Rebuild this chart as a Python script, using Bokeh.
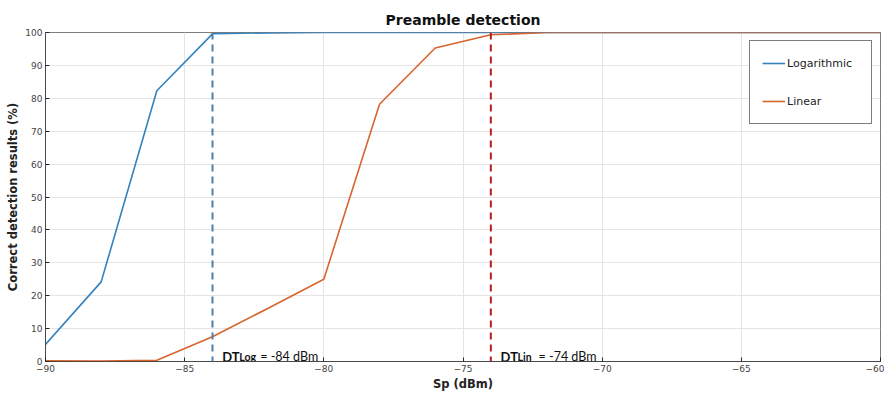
from bokeh.plotting import figure
from bokeh.models import Range1d, FixedTicker, Legend, LegendItem, Span
from bokeh.core.properties import value
from bokeh.embed import file_html
from bokeh.resources import INLINE

sp = [-90, -88, -86, -84, -82, -80, -78, -76, -74, -72, -70, -68, -66, -64, -62, -60]
logarithmic = [5.2, 24.2, 82.3, 99.6, 99.9, 100, 100, 100, 100, 100, 100, 100, 100, 100, 100, 100]
linear = [0.2, 0.1, 0.4, 7.5, 16.2, 25.0, 78.2, 95.3, 99.3, 100, 100, 100, 100, 100, 100, 100]
x_ticks = [-90, -85, -80, -75, -70, -65, -60]
y_ticks = [0, 10, 20, 30, 40, 50, 60, 70, 80, 90, 100]
dt_log = -84
dt_lin = -74

BLUE = "#3282be"
ORANGE = "#d8642e"
FONT = "DejaVu Sans"

p = figure(width=884, height=395, output_backend="svg", toolbar_location=None,
           x_range=Range1d(-90, -60), y_range=Range1d(0, 100),
           min_border_left=45, min_border_right=4, min_border_top=32, min_border_bottom=34,
           title="Preamble detection")
p.title.align = "center"
p.title.text_font = FONT
p.title.text_font_size = "14px"
p.title.text_font_style = "bold"
p.title.text_color = "#111111"
p.title.offset = 0
p.title.standoff = 9

p.outline_line_color = "#262626"
p.outline_line_width = 1
p.outline_line_alpha = 0.6

for ax in (p.xaxis[0], p.yaxis[0]):
    ax.major_label_text_font = FONT
    ax.major_label_text_font_size = "9px"
    ax.major_label_text_color = "#444444"
    ax.axis_label_text_font = FONT
    ax.axis_label_text_font_size = "11.5px"
    ax.axis_label_text_font_style = "bold"
    ax.axis_label_text_color = "#222222"
    ax.axis_line_color = "#262626"
    ax.axis_line_alpha = 0.6
    ax.major_tick_in = 4
    ax.major_tick_out = 0
    ax.major_tick_line_color = "#262626"
    ax.minor_tick_line_color = None
    ax.major_label_standoff = 3
    ax.axis_label_standoff = 2

p.xaxis.ticker = FixedTicker(ticks=x_ticks)
p.yaxis.ticker = FixedTicker(ticks=y_ticks)
p.xaxis.axis_label = "Sp (dBm)"
p.yaxis.axis_label = "Correct detection results (%)"

p.xgrid.ticker = FixedTicker(ticks=x_ticks)
p.ygrid.ticker = FixedTicker(ticks=y_ticks)
p.grid.grid_line_color = "#e4e4e4"
p.grid.grid_line_width = 1

r_log = p.line(sp, logarithmic, line_color=BLUE, line_width=1.6)
r_lin = p.line(sp, linear, line_color=ORANGE, line_width=1.6)

p.add_layout(Span(location=dt_log, dimension="height", line_color="#4c7fab",
                  line_width=2, line_dash="7 5"))
p.add_layout(Span(location=dt_lin, dimension="height", line_color="#b81c1c",
                  line_width=2, line_dash="7 5"))

ANN = "Lato"
ty = 1.4
for xv, sub, txt in [(dt_log, "Log", "= -84 dBm"), (dt_lin, "Lin", "= -74 dBm")]:
    x0 = xv + 0.35
    p.text([x0], [ty], text=["DT"], text_font=value(ANN), text_font_size="13px",
           text_font_style="bold", text_color="#111111", text_baseline="alphabetic")
    p.text([x0], [ty], text=[sub], x_offset=17, text_font=value(ANN), text_font_size="10.5px",
           text_font_style="bold", text_color="#111111", text_baseline="alphabetic")
    p.text([x0], [ty], text=[txt], x_offset=38, text_font=value(ANN), text_font_size="12.5px",
           text_color="#111111", text_baseline="alphabetic")

legend = Legend(items=[LegendItem(label="Logarithmic", renderers=[r_log]),
                       LegendItem(label="Linear", renderers=[r_lin])],
                location="top_right")
legend.margin = 8
legend.padding = 12
legend.spacing = 18
legend.glyph_width = 23
legend.glyph_height = 20
legend.label_standoff = 2
legend.label_width = 72
legend.label_text_font = FONT
legend.label_text_font_size = "11px"
legend.label_text_color = "#222222"
legend.border_line_color = "#262626"
legend.border_line_alpha = 0.6
legend.background_fill_color = "white"
legend.background_fill_alpha = 1
p.add_layout(legend)

open("out.html", "w").write(file_html(p, INLINE))
